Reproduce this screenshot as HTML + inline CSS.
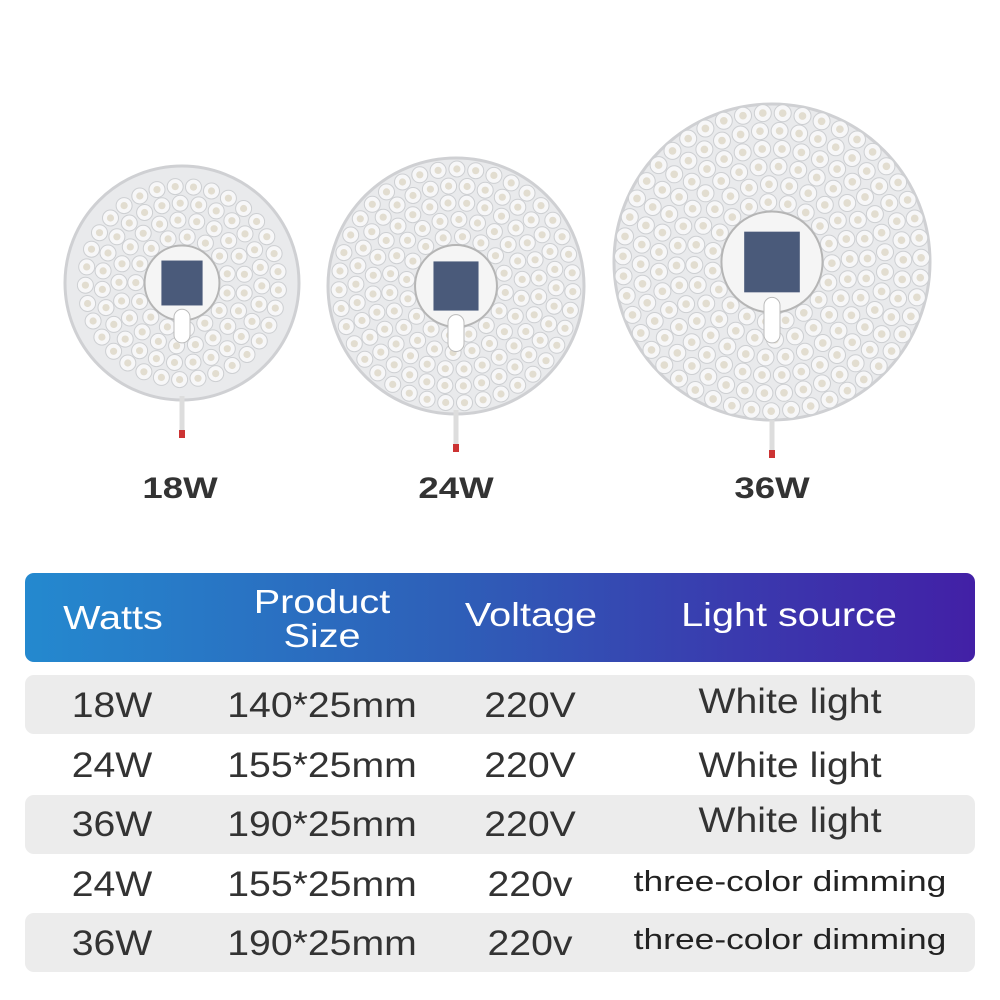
<!DOCTYPE html>
<html><head><meta charset="utf-8"><style>
body{margin:0;width:1000px;height:1000px;background:#fff;position:relative;overflow:hidden;font-family:"Liberation Sans","DejaVu Sans",sans-serif}
.t{position:absolute;text-align:center;white-space:nowrap}
.hd{position:absolute;left:25px;top:573px;width:950px;height:89px;border-radius:9px;background:linear-gradient(90deg,#2489cf 0%,#2e5fb8 45%,#3a3aae 75%,#4220a6 100%)}
.row{position:absolute;left:25px;width:950px;height:59px;border-radius:9px;background:#ececec}
.h{color:#fff;font-size:33px;line-height:34px;transform:translateX(-50%) scaleX(1.2)}
.c{color:#333;font-size:35px;transform:translateX(-50%) scaleX(1.12)}
.s{color:#222;font-size:29px;transform:translateX(-50%) scaleX(1.22)}
.lab{font-weight:bold;font-size:30px;color:#333;transform:translateX(-50%) scaleX(1.22)}
</style></head><body>
<svg id="sv" width="1000" height="560" style="position:absolute;left:0;top:0"></svg>
<div class="t lab" style="left:180px;top:472px">18W</div>
<div class="t lab" style="left:456px;top:472px">24W</div>
<div class="t lab" style="left:772px;top:472px">36W</div>
<div class="hd"></div>
<div class="t h" style="left:113px;top:601px">Watts</div>
<div class="t h" style="left:322px;top:585px">Product<br>Size</div>
<div class="t h" style="left:531px;top:598px">Voltage</div>
<div class="t h" style="left:789px;top:598px">Light source</div>
<div class="row" style="top:675px"></div>
<div class="row" style="top:795px"></div>
<div class="row" style="top:913px"></div>
<div class="t c" style="left:112px;top:686px">18W</div><div class="t c" style="left:322px;top:686px">140*25mm</div><div class="t c" style="left:530px;top:686px">220V</div><div class="t c" style="left:790px;top:682px">White light</div>
<div class="t c" style="left:112px;top:746px">24W</div><div class="t c" style="left:322px;top:746px">155*25mm</div><div class="t c" style="left:530px;top:746px">220V</div><div class="t c" style="left:790px;top:746px">White light</div>
<div class="t c" style="left:112px;top:805px">36W</div><div class="t c" style="left:322px;top:805px">190*25mm</div><div class="t c" style="left:530px;top:805px">220V</div><div class="t c" style="left:790px;top:801px">White light</div>
<div class="t c" style="left:112px;top:865px">24W</div><div class="t c" style="left:322px;top:865px">155*25mm</div><div class="t c" style="left:530px;top:865px">220v</div><div class="t s" style="left:790px;top:866px">three-color dimming</div>
<div class="t c" style="left:112px;top:924px">36W</div><div class="t c" style="left:322px;top:924px">190*25mm</div><div class="t c" style="left:530px;top:924px">220v</div><div class="t s" style="left:790px;top:924px">three-color dimming</div>
<script>
var s='';
function panel(cx,cy,r,dr){
 s+='<circle cx="'+cx+'" cy="'+cy+'" r="'+r+'" fill="#e9eaec" stroke="#cfd0d3" stroke-width="3"/>';
 s+='<line x1="'+cx+'" y1="'+(cy+r-4)+'" x2="'+cx+'" y2="'+(cy+r+38)+'" stroke="#ddd" stroke-width="5"/>';
 s+='<rect x="'+(cx-3)+'" y="'+(cy+r+30)+'" width="6" height="8" fill="#c33"/>';
 var rin=r*0.32;
 for(var rr=rin+dr*1.1;rr<r-dr*0.5;rr+=dr*2.1){
  var n=Math.floor(2*Math.PI*rr/(dr*2.3));
  for(var i=0;i<n;i++){var a=i*2*Math.PI/n+rr*0.05;
   var x=cx+rr*Math.cos(a),y=cy+rr*Math.sin(a);
   s+='<circle cx="'+x.toFixed(1)+'" cy="'+y.toFixed(1)+'" r="'+dr+'" fill="#f7f7f8" stroke="#cdcfd2" stroke-width="1"/>';
   s+='<circle cx="'+x.toFixed(1)+'" cy="'+y.toFixed(1)+'" r="'+(dr*0.45)+'" fill="#e2ddd0"/>';}
 }
 s+='<circle cx="'+cx+'" cy="'+cy+'" r="'+rin+'" fill="#f5f5f5" stroke="#b5b5b5" stroke-width="2"/>';
 s+='<rect x="'+(cx-rin*0.55)+'" y="'+(cy-rin*0.6)+'" width="'+(rin*1.1)+'" height="'+(rin*1.2)+'" fill="#4a5a7a"/>';
 s+='<rect x="'+(cx-8)+'" y="'+(cy+rin*0.7)+'" width="16" height="'+(rin*0.9)+'" rx="8" fill="#fff" stroke="#bbb"/>';
}
panel(182,283,117,8);
panel(456,286,128,8);
panel(772,262,158,8.5);
document.getElementById('sv').innerHTML=s;
</script>
</body></html>
